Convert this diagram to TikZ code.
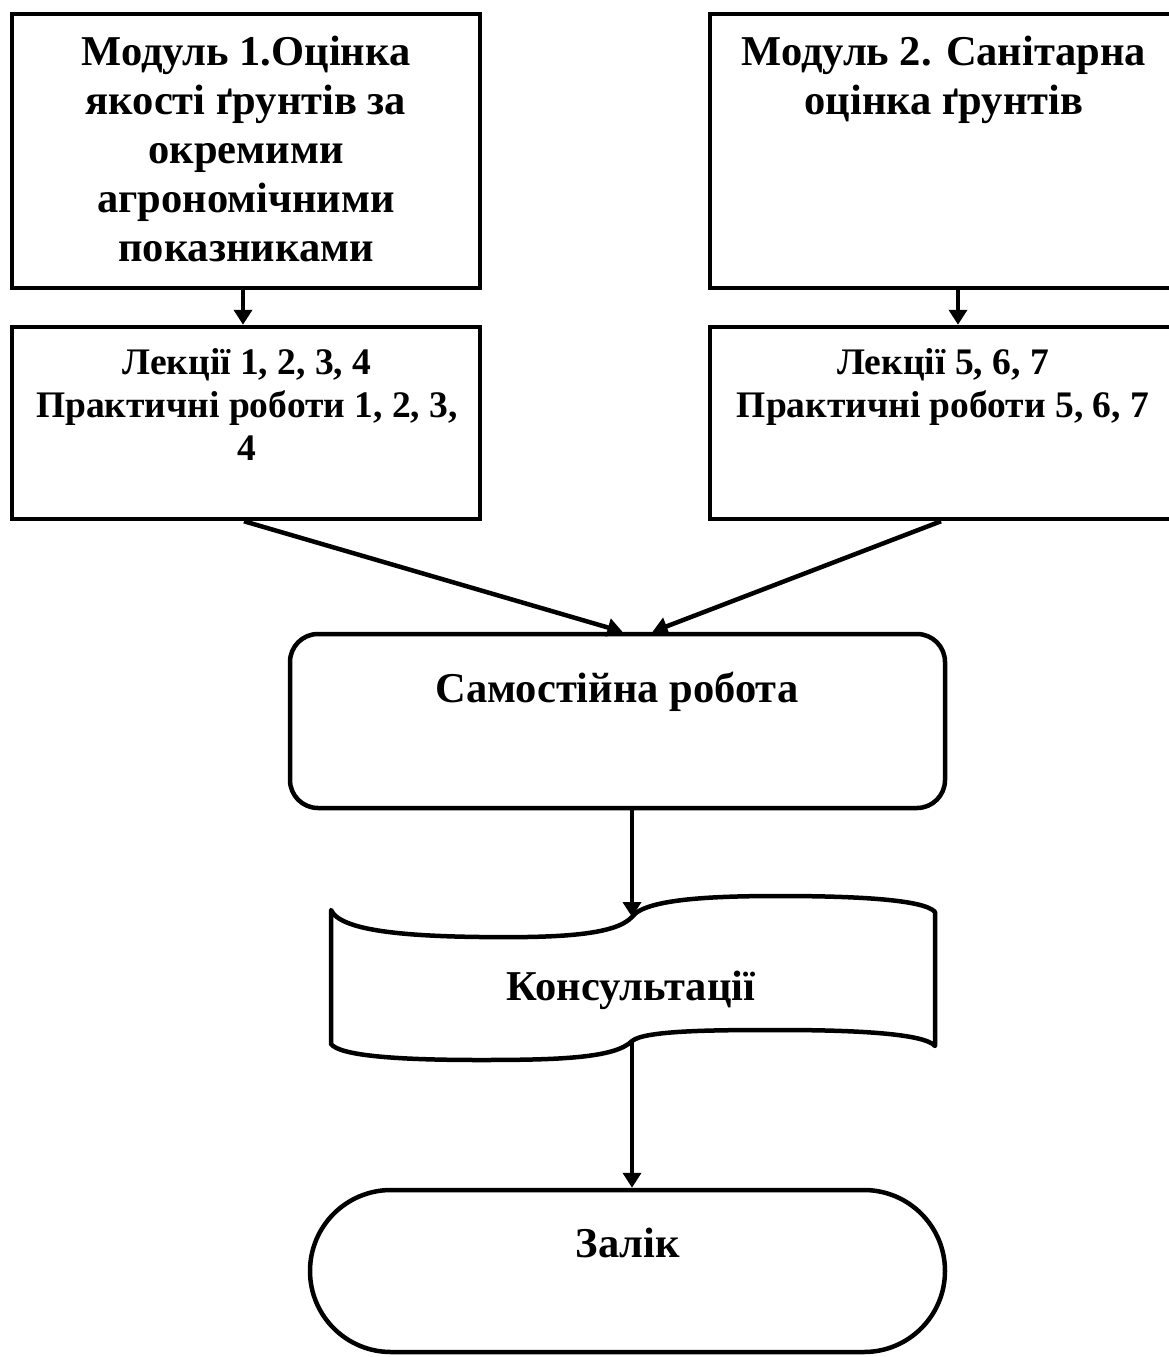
\documentclass[tikz,border=0pt]{standalone}
\usepackage{fontspec}
\setmainfont{Liberation Serif}
\usetikzlibrary{arrows.meta,calc}
\newcommand{\mylines}[1]{\begin{tabular}[t]{@{}c@{}}#1\end{tabular}}
\tikzset{
  box/.style={draw, line width=4.5pt, rectangle, inner sep=0pt},
  rbox/.style={draw, line width=4.5pt, rectangle, rounded corners=28pt, inner sep=0pt},
  big/.style={font=\fontsize{42.5}{49}\selectfont\bfseries, inner sep=0pt, anchor=base},
  small/.style={font=\fontsize{37.5}{43}\selectfont\bfseries, inner sep=0pt, anchor=base},
  arr/.style={line width=4.5pt, -{Triangle[length=15pt,width=18pt]}},
}
\begin{document}
\begin{tikzpicture}[x=1pt,y=-1pt]
\useasboundingbox[fill=white] (0,0) rectangle (1169,1357);
% boxes
\node[box, minimum width=468pt, minimum height=274pt] (m1) at (246,151) {};
\node[box, minimum width=468pt, minimum height=192pt] (l1) at (246,423) {};
\node[box, minimum width=462pt, minimum height=274pt] (m2) at (941,151) {};
\node[box, minimum width=462pt, minimum height=192pt] (l2) at (941,423) {};
\node[rbox, minimum width=655pt, minimum height=174pt] (sam) at (617.5,721) {};
\node[box, rounded corners=81pt, minimum width=635pt, minimum height=162pt] (zal) at (627.5,1271) {};
% texts
\node[big] (m1t) at (246,65) {\mylines{Модуль 1.Оцінка\\якості ґрунтів за\\окремими\\агрономічними\\показниками}};
\node[big] (m2t) at (944,65) {\mylines{Модуль 2. Санітарна\\оцінка ґрунтів}};
\node[small] (l1t) at (247,374) {\mylines{Лекції 1, 2, 3, 4\\Практичні роботи 1, 2, 3,\\4}};
\node[small] (l2t) at (943,374) {\mylines{Лекції 5, 6, 7\\Практичні роботи 5, 6, 7}};
\node[big] (samt) at (617,702) {Самостійна робота};
\node[big] (kons) at (631,1000) {Консультації};
\node[big] (zalt) at (628,1257) {Залік};
% document shape
\coordinate (kt) at (632,917);
\coordinate (kb) at (632,1041);
\draw[line width=4.5pt, line join=round]
  (331,910) .. controls (340,930) and (400,936) .. (480,937)
  .. controls (560,938) and (615,935) .. (kt)
  .. controls (645,898) and (720,896) .. (780,896)
  .. controls (860,896) and (925,900) .. (935,912)
  -- (935,1046)
  .. controls (925,1034) and (860,1030) .. (780,1030)
  .. controls (720,1030) and (645,1030) .. (kb)
  .. controls (615,1058) and (560,1060) .. (480,1060)
  .. controls (400,1060) and (340,1056) .. (331,1044)
  -- cycle;
% connectors
\draw[arr] (m1.south -| 243,0) -- (l1.north -| 243,0);
\draw[arr] (m2.south -| 958,0) -- (l2.north -| 958,0);
\draw[arr] ([xshift=-2pt]l1.south) -- ([xshift=5pt]sam.north);
\draw[arr] (l2.south) -- ([xshift=35pt]sam.north);
\draw[arr] (sam.south -| kt) -- (kt);
\draw[arr] (kb) -- (kb |- zal.north);
\end{tikzpicture}
\end{document}
